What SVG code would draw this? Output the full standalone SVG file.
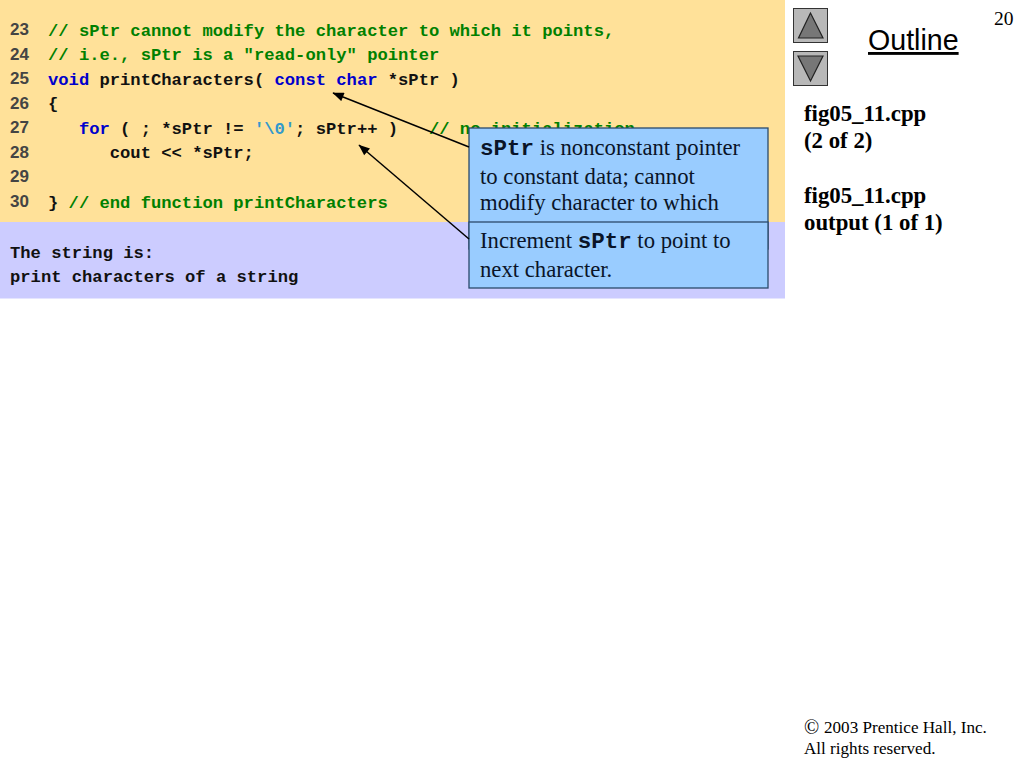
<svg xmlns="http://www.w3.org/2000/svg" width="1024" height="768" viewBox="0 0 1024 768">
<defs>
<style>
.code{font-family:"Liberation Mono",monospace;font-weight:bold;font-size:17.16px;fill:#111;white-space:pre}
.ln{font-family:"Liberation Sans",Arial,sans-serif;font-weight:bold;font-size:17px;fill:#444}
.c{fill:#008000}.k{fill:#0000cc}.s{fill:#3399cc}
.t{font-family:"Liberation Serif",serif;font-size:22.7px;fill:#0a1428}
.m{font-family:"Liberation Mono",monospace;font-weight:bold;font-size:22.5px}
.side{font-family:"Liberation Serif",serif;font-weight:bold;font-size:22.8px;fill:#000}
.foot{font-family:"Liberation Serif",serif;font-size:17.1px;fill:#000}
.box{fill:#99ccff;stroke:#2b4a6b;stroke-width:1.3}
.btn{fill:#b8b8b8;stroke:#333;stroke-width:1}
.tri{fill:#777;stroke:#222;stroke-width:1.2}
.arr{stroke:#000;stroke-width:1.5;fill:none;marker-end:url(#a)}
</style>
<marker id="a" viewBox="0 0 10 8" refX="9.5" refY="4" markerWidth="12" markerHeight="9" markerUnits="userSpaceOnUse" orient="auto"><path d="M0 0L10 4L0 8Z" fill="#000"/></marker>
</defs>
<rect width="1024" height="768" fill="#fff"/>
<g id="code-panel">
<rect x="0" y="0" width="785" height="222" fill="#ffe199"/>
<g class="ln">
<text x="10" y="35">23</text><text x="10" y="60">24</text><text x="10" y="84">25</text><text x="10" y="109">26</text><text x="10" y="133">27</text><text x="10" y="158">28</text><text x="10" y="182">29</text><text x="10" y="207">30</text>
</g>
<text class="code" x="48" y="36"><tspan class="c">// sPtr cannot modify the character to which it points,</tspan></text>
<text class="code" x="48" y="60"><tspan class="c">// i.e., sPtr is a "read-only" pointer</tspan></text>
<text class="code" x="48" y="85"><tspan class="k">void</tspan> printCharacters( <tspan class="k">const</tspan> <tspan class="k">char</tspan> *sPtr )</text>
<text class="code" x="48" y="109">{</text>
<text class="code" x="48" y="134" xml:space="preserve">   <tspan class="k">for</tspan> ( ; *sPtr != <tspan class="s">'\0'</tspan>; sPtr++ )   <tspan class="c">// no initialization</tspan></text>
<text class="code" x="48" y="158" xml:space="preserve">      cout &lt;&lt; *sPtr;</text>
<text class="code" x="48" y="208">} <tspan class="c">// end function printCharacters</tspan></text>
</g>
<g id="output-panel">
<rect x="0" y="222" width="785" height="76.500" fill="#ccccff"/>
<text class="code" x="10" y="258">The string is:</text>
<text class="code" x="10" y="282">print characters of a string</text>
</g>
<g id="callout-1">
<rect class="box" x="469" y="128" width="299" height="121"/>
<text class="t" x="480" y="155"><tspan class="m">sPtr</tspan> is nonconstant pointer</text>
<text class="t" x="480" y="184">to constant data; cannot</text>
<text class="t" x="480" y="210">modify character to which</text>
</g>
<g id="callout-2">
<rect class="box" x="469" y="222" width="299" height="66"/>
<text class="t" x="480" y="248">Increment <tspan class="m">sPtr</tspan> to point to</text>
<text class="t" x="480" y="277">next character.</text>
</g>
<g id="connectors">
<line class="arr" x1="469" y1="147" x2="333" y2="93"/>
<line class="arr" x1="469" y1="239" x2="359" y2="145"/>
</g>
<g id="nav-up">
<rect class="btn" x="793.500" y="8.500" width="34" height="34"/>
<polygon class="tri" points="810.500,13 798.500,38 823,38"/>
</g>
<g id="nav-down">
<rect class="btn" x="793.500" y="51.500" width="34" height="34"/>
<polygon class="tri" points="798,56 823,56 810.500,81"/>
</g>
<g id="outline-title">
<text x="868" y="50" font-family="'Liberation Sans',Arial,sans-serif" font-size="28.600" fill="#000" text-decoration="underline">Outline</text>
<text x="994" y="25" font-family="'Liberation Serif',serif" font-size="19.500" fill="#000">20</text>
</g>
<g id="side-labels">
<text class="side" x="804" y="121">fig05_11.cpp</text>
<text class="side" x="804" y="148">(2 of 2)</text>
<text class="side" x="804" y="203">fig05_11.cpp</text>
<text class="side" x="804" y="230">output (1 of 1)</text>
</g>
<g id="footer">
<text class="foot" x="804" y="734" font-size="20" style="font-size:20px">©</text>
<text class="foot" x="824" y="733">2003 Prentice Hall, Inc.</text>
<text class="foot" x="804" y="754">All rights reserved.</text>
</g>
</svg>
